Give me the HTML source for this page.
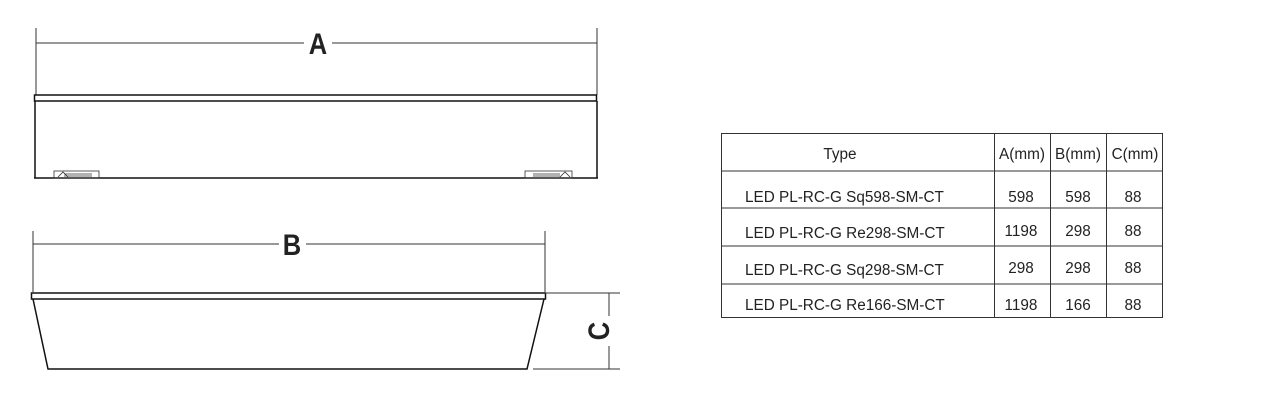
<!DOCTYPE html>
<html><head><meta charset="utf-8"><style>
html,body{margin:0;padding:0;background:#fff;width:1283px;height:420px;overflow:hidden}
svg{display:block}
text{font-family:"Liberation Sans",sans-serif;fill:#222}
</style></head><body>
<svg width="1283" height="420" viewBox="0 0 1283 420" xmlns="http://www.w3.org/2000/svg">
<g stroke="#333" fill="none">
 <!-- A view -->
 <line x1="36" y1="28" x2="36" y2="95" stroke-width="1"/>
 <line x1="597" y1="28" x2="597" y2="95" stroke-width="1"/>
 <line x1="36" y1="43" x2="304" y2="43" stroke-width="1"/>
 <line x1="332" y1="43" x2="597" y2="43" stroke-width="1"/>
 <rect x="34.5" y="95" width="562" height="6" stroke-width="1.5" stroke="#111"/>
 <line x1="35" y1="101" x2="35" y2="178" stroke-width="1.5" stroke="#111"/>
 <line x1="597" y1="101" x2="597" y2="178" stroke-width="1.5" stroke="#111"/>
 <line x1="34" y1="178" x2="598" y2="178" stroke-width="1.5" stroke="#111"/>
 <rect x="54" y="171" width="45" height="7" stroke-width="0.8"/>
 <path d="M58 177 L63 172 L68 177 M64 174 H92 M64 176 H92" stroke-width="0.8"/>
 <rect x="525" y="171" width="47" height="7" stroke-width="0.8"/>
 <path d="M560 177 L565 172 L570 177 M533 174 H560 M533 176 H560" stroke-width="0.8"/>
 <!-- B view -->
 <line x1="33" y1="231" x2="33" y2="292" stroke-width="1"/>
 <line x1="545" y1="231" x2="545" y2="292" stroke-width="1"/>
 <line x1="33" y1="244" x2="279" y2="244" stroke-width="1"/>
 <line x1="306" y1="244" x2="545" y2="244" stroke-width="1"/>
 <rect x="31.5" y="293" width="514" height="6" stroke-width="1.5" stroke="#111"/>
 <path d="M33 299 L48 369 L527 369 L544 299" stroke-width="1.5" stroke="#111"/>
 <!-- C dim -->
 <line x1="545" y1="293" x2="620" y2="293" stroke-width="1"/>
 <line x1="533" y1="369" x2="620" y2="369" stroke-width="1"/>
 <line x1="609" y1="293" x2="609" y2="316" stroke-width="1"/>
 <line x1="609" y1="346" x2="609" y2="369" stroke-width="1"/>
</g>
<text x="0" y="0" font-size="30" font-weight="bold" text-anchor="middle" fill="#111" transform="translate(318,54) scale(0.85,1)">A</text>
<text x="0" y="0" font-size="30" font-weight="bold" text-anchor="middle" fill="#111" transform="translate(292,255) scale(0.85,1)">B</text>
<text x="0" y="0" font-size="30" font-weight="bold" text-anchor="middle" fill="#111" transform="translate(609,331) rotate(-90) scale(0.85,1)">C</text>
<!-- table -->
<g stroke="#333" stroke-width="1" fill="none">
 <rect x="721.5" y="133.5" width="441" height="184"/>
 <line x1="721" y1="171" x2="1163" y2="171"/>
 <line x1="721" y1="208" x2="1163" y2="208"/>
 <line x1="721" y1="246" x2="1163" y2="246"/>
 <line x1="721" y1="284" x2="1163" y2="284"/>
 <line x1="994.5" y1="133" x2="994.5" y2="317"/>
 <line x1="1050.5" y1="133" x2="1050.5" y2="317"/>
 <line x1="1106.5" y1="133" x2="1106.5" y2="317"/>
</g>
<g font-size="15.3">
 <text x="840" y="159" text-anchor="middle">Type</text>
 <text x="1022" y="159" text-anchor="middle">A(mm)</text>
 <text x="1078" y="159" text-anchor="middle">B(mm)</text>
 <text x="1135" y="159" text-anchor="middle">C(mm)</text>
 <text x="745" y="202">LED PL-RC-G Sq598-SM-CT</text>
 <text x="1021" y="202" text-anchor="middle">598</text>
 <text x="1078" y="202" text-anchor="middle">598</text>
 <text x="1133" y="202" text-anchor="middle">88</text>
 <text x="745" y="238">LED PL-RC-G Re298-SM-CT</text>
 <text x="1021" y="236" text-anchor="middle">1198</text>
 <text x="1078" y="236" text-anchor="middle">298</text>
 <text x="1133" y="236" text-anchor="middle">88</text>
 <text x="745" y="275">LED PL-RC-G Sq298-SM-CT</text>
 <text x="1021" y="273" text-anchor="middle">298</text>
 <text x="1078" y="273" text-anchor="middle">298</text>
 <text x="1133" y="273" text-anchor="middle">88</text>
 <text x="745" y="310">LED PL-RC-G Re166-SM-CT</text>
 <text x="1021" y="310" text-anchor="middle">1198</text>
 <text x="1078" y="310" text-anchor="middle">166</text>
 <text x="1133" y="310" text-anchor="middle">88</text>
</g>
</svg>
</body></html>
